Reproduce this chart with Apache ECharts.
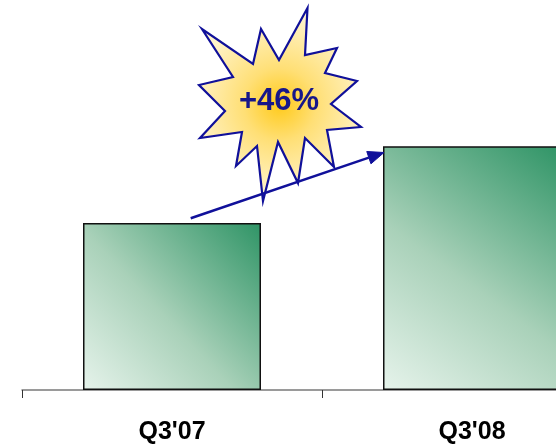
<!DOCTYPE html>
<html>
<head>
<meta charset="utf-8">
<script src="https://cdn.jsdelivr.net/npm/echarts@6/dist/echarts.min.js"></script>
<style>
  html, body { margin: 0; padding: 0; background: #ffffff; overflow: hidden; width: 556px; height: 445px; }
  /* the canvas is wider than the page, so the second bar runs off the right edge */
  #chart { width: 622px; height: 445px; }
</style>
</head>
<body>
<div id="chart"></div>
<script>
// Quarterly comparison
const categories = ["Q3'07", "Q3'08"];
const values = [100, 146];

// Growth between the two quarters, shown in the starburst
const growthPct = Math.round((values[1] / values[0] - 1) * 100);
const growthText = '+' + growthPct + '%';

const navy = '#10109a';

// Starburst outline (pixel points)
const starPoints = [
  [307.5, 8], [305, 55], [337, 48], [325, 73], [357, 81], [331, 104],
  [361, 127], [327, 130], [334, 167], [305, 138], [298, 183], [278, 142],
  [263, 201], [257, 146], [236, 166], [242, 132], [200, 138], [225, 111],
  [199, 85], [233, 77], [202, 29], [253, 64], [261, 29], [279, 60]
];

// Growth arrow from the first bar towards the second
const arrowFrom = [190.7, 218.3];
const arrowTo = [384, 152.5];
const headLen = 16, headHalf = 6.5;
const dx = arrowTo[0] - arrowFrom[0], dy = arrowTo[1] - arrowFrom[1];
const len = Math.sqrt(dx * dx + dy * dy);
const ux = dx / len, uy = dy / len;
const bx = arrowTo[0] - headLen * ux, by = arrowTo[1] - headLen * uy;
const headPoints = [
  arrowTo,
  [bx - headHalf * uy, by + headHalf * ux],
  [bx + headHalf * uy, by - headHalf * ux]
];

const chart = echarts.init(document.getElementById('chart'), null, { renderer: 'canvas' });

chart.setOption({
  backgroundColor: '#ffffff',
  animation: false,
  grid: { left: 22, right: 0, top: 56, bottom: 53, containLabel: false },
  xAxis: {
    type: 'category',
    data: categories,
    boundaryGap: true,
    axisLine: { show: true, lineStyle: { color: '#7a7a7a', width: 1.5 } },
    axisTick: { show: true, length: 8, alignWithLabel: false, lineStyle: { color: '#333333', width: 1 } },
    axisLabel: {
      margin: 30,
      color: '#000000',
      fontSize: 25,
      fontWeight: 'bold',
      fontFamily: 'Liberation Sans, Arial, sans-serif'
    },
    splitLine: { show: false }
  },
  yAxis: {
    type: 'value',
    min: 0,
    max: 200,
    show: false,
    splitLine: { show: false }
  },
  series: [{
    type: 'bar',
    data: values,
    barWidth: 178,
    itemStyle: {
      borderColor: '#111111',
      borderWidth: 1.5,
      color: new echarts.graphic.LinearGradient(0, 1, 1, 0, [
        { offset: 0, color: '#e6f3eb' },
        { offset: 0.45, color: '#a9d1b9' },
        { offset: 1, color: '#2f9466' }
      ])
    },
    label: { show: false }
  }],
  graphic: [
    {
      type: 'polygon',
      z: 100,
      shape: { points: starPoints },
      style: {
        fill: new echarts.graphic.RadialGradient(0.5, 0.5, 0.55, [
          { offset: 0, color: '#ffca1a' },
          { offset: 0.4, color: '#ffdf75' },
          { offset: 1, color: '#fff4cc' }
        ]),
        stroke: navy,
        lineWidth: 2.2,
        lineJoin: 'miter'
      }
    },
    {
      type: 'text',
      z: 101,
      x: 279,
      y: 101,
      style: {
        text: growthText,
        fill: '#16168a',
        font: 'bold 31px "Liberation Sans", Arial, sans-serif',
        align: 'center',
        verticalAlign: 'middle'
      }
    },
    {
      type: 'line',
      z: 102,
      shape: { x1: arrowFrom[0], y1: arrowFrom[1], x2: bx, y2: by },
      style: { stroke: navy, lineWidth: 2.5 }
    },
    {
      type: 'polygon',
      z: 102,
      shape: { points: headPoints },
      style: { fill: navy, stroke: navy, lineWidth: 1 }
    }
  ]
});
</script>
</body>
</html>
